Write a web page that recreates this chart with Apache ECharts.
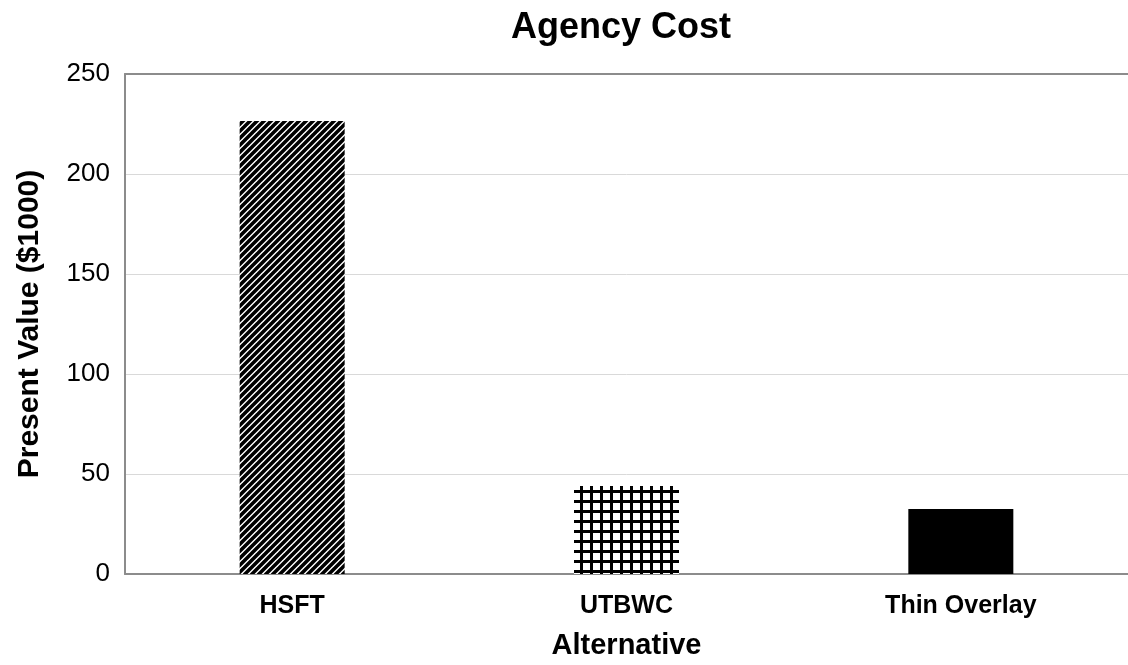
<!DOCTYPE html>
<html>
<head>
<meta charset="utf-8">
<style>
  html, body { margin: 0; padding: 0; background: #ffffff; }
  #chart { width: 1128px; height: 665px; }
</style>
<script src="https://cdn.jsdelivr.net/npm/echarts@6/dist/echarts.min.js"></script>
</head>
<body>
<div id="chart"></div>
<script>
// Agency cost per pavement alternative, present value in $1000
const categories = ['HSFT', 'UTBWC', 'Thin Overlay'];
const presentValues = [226.5, 44, 32.5];
const yTicks = [0, 50, 100, 150, 200, 250];

// Fill patterns for each bar
function hatchPattern(size, width) {
  const c = document.createElement('canvas');
  c.width = size; c.height = size;
  const g = c.getContext('2d');
  g.fillStyle = '#ffffff';
  g.fillRect(0, 0, size, size);
  g.strokeStyle = '#000000';
  g.lineWidth = width;
  g.beginPath();
  for (let k = -1; k <= 1; k++) {
    g.moveTo(k * size - 1, size + 1);
    g.lineTo(k * size + size + 1, -1);
  }
  g.stroke();
  return c;
}
function gridPattern(size, width) {
  const c = document.createElement('canvas');
  c.width = size; c.height = size;
  const g = c.getContext('2d');
  g.fillStyle = '#ffffff';
  g.fillRect(0, 0, size, size);
  g.fillStyle = '#000000';
  g.fillRect(0, 0, width, size);
  g.fillRect(0, 0, size, width);
  return c;
}

const fills = [
  { image: hatchPattern(7, 3.6), repeat: 'repeat' },
  { image: gridPattern(10, 3), repeat: 'repeat' },
  '#000000'
];

const chart = echarts.init(document.getElementById('chart'), null, { renderer: 'canvas' });
const fontFamily = 'Liberation Sans, Arial, sans-serif';
const axisGray = '#8c8c8c';

chart.setOption({
  animation: false,
  backgroundColor: '#ffffff',
  title: {
    text: 'Agency Cost',
    left: 616,
    textAlign: 'center',
    top: 5,
    textStyle: { fontFamily, fontSize: 36, fontWeight: 'bold', color: '#000000' }
  },
  grid: { left: 125, right: -5, top: 74, bottom: 90 },
  xAxis: [{
    type: 'category',
    data: categories,
    name: 'Alternative',
    nameLocation: 'middle',
    nameGap: 57,
    nameTextStyle: { fontFamily, fontSize: 29, fontWeight: 'bold', color: '#000000' },
    axisLine: { lineStyle: { color: axisGray, width: 2 } },
    axisTick: { show: false },
    axisLabel: { fontFamily, fontSize: 25, fontWeight: 'bold', color: '#000000', margin: 20 }
  }, {
    // upper frame line of the plot area
    type: 'category',
    data: categories,
    position: 'top',
    axisLine: { show: true, lineStyle: { color: axisGray, width: 2 } },
    axisTick: { show: false },
    axisLabel: { show: false },
    splitLine: { show: false }
  }],
  yAxis: {
    type: 'value',
    min: 0, max: 250, interval: 50,
    name: 'Present Value ($1000)',
    nameLocation: 'middle',
    nameGap: 80,
    nameTextStyle: { fontFamily, fontSize: 30, fontWeight: 'bold', color: '#000000' },
    axisLine: { show: true, lineStyle: { color: axisGray, width: 2 } },
    axisTick: { show: false },
    axisLabel: {
      fontFamily, fontSize: 26, color: '#000000', margin: 15,
      formatter: v => (yTicks.includes(v) ? String(v) : '')
    },
    splitLine: { lineStyle: { color: '#d9d9d9', width: 1 } }
  },
  series: [{
    type: 'bar',
    xAxisIndex: 0,
    barWidth: 105,
    data: presentValues.map((v, i) => ({ value: v, itemStyle: { color: fills[i] } }))
  }]
});
</script>
</body>
</html>
